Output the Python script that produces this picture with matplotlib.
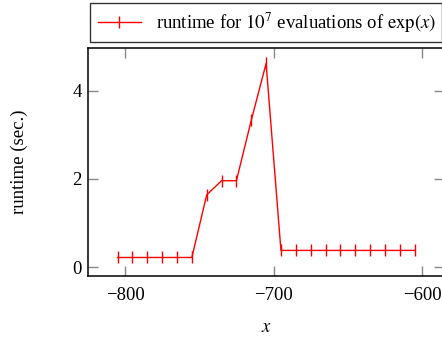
import matplotlib
matplotlib.use("Agg")
import matplotlib.pyplot as plt

plt.rcParams['font.family'] = ['Liberation Serif', 'DejaVu Serif']
plt.rcParams['mathtext.fontset'] = 'stix'

x_vals = [-805, -795, -785, -775, -765, -755, -745, -735, -725, -715, -705,
          -695, -685, -675, -665, -655, -645, -635, -625, -615, -605]
runtime = [0.22, 0.22, 0.22, 0.22, 0.22, 0.22, 1.64, 1.96, 1.96, 3.33, 4.62,
           0.38, 0.38, 0.38, 0.38, 0.38, 0.38, 0.38, 0.38, 0.38, 0.38]
x_ticks = [-800, -700, -600]
y_ticks = [0, 2, 4]
legend_label = r"runtime for $10^7$ evaluations of $\exp(x)$"

fs = 13.5
fig = plt.figure(figsize=(4.42, 3.38), dpi=100)
ax = fig.add_axes([87.9/442, (338-276)/338, (444.3-87.9)/442, 228/338])

ax.plot(x_vals, runtime, color='red', lw=1.0, marker='|', ms=8, mew=1.0,
        label=legend_label)

ax.set_xlim(-825, -585)
ax.set_ylim(-0.2, 4.97)
ax.set_xticks(x_ticks)
ax.set_yticks(y_ticks)
ax.set_xticklabels([f"\u2212{abs(v)}" for v in x_ticks])
ax.tick_params(direction='in', length=7, width=1.0, color='#888888',
               top=True, right=True, labelsize=fs)
ax.tick_params(axis='x', pad=8)
ax.tick_params(axis='y', pad=4.5)
for s in ax.spines.values():
    s.set_linewidth(1.1)
    s.set_color('black')

ax.set_xlabel(r"$x$", fontsize=fs, labelpad=11)
ax.set_ylabel("runtime (sec.)", fontsize=fs)
ax.yaxis.set_label_coords(-(87.9 - 28.5) / (444.3 - 87.9), 0.5)

leg = fig.legend(loc='upper left',
                 bbox_to_anchor=(90/442, 1 - 43/338, 352/442, 40/338),
                 mode='expand', fontsize=fs, frameon=True, fancybox=False,
                 edgecolor='black', handlelength=2.3, borderpad=0.4,
                 borderaxespad=0)
leg.get_frame().set_linewidth(1.0)

fig.savefig("out.png", dpi=100)
